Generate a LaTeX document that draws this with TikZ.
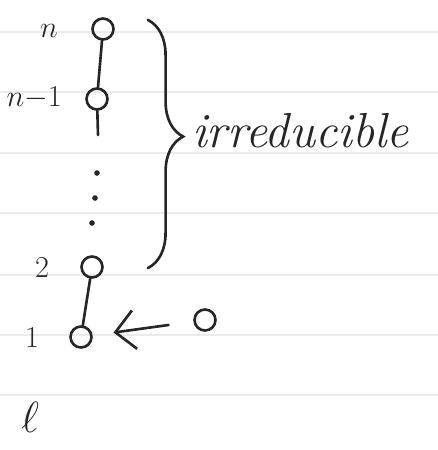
\documentclass[tikz,border=0pt]{standalone}
\usepackage{tikz}
\usetikzlibrary{arrows.meta,decorations.pathreplacing}

\begin{document}
\begin{tikzpicture}[x=0.02cm, y=-0.02cm,
  ink/.style={draw=black!85, line width=1.5pt, line cap=round},
  vertex/.style={ink, circle, minimum size=0.42cm, inner sep=0pt},
  lbl/.style={font=\fontsize{18}{20}\selectfont, text=black!85},
  arr/.style={ink, -{Straight Barb[length=11pt, width=22pt]}},
  rule/.style={draw=black!8, line width=0.8pt}
]
  \useasboundingbox (0,0) rectangle (438,450);
  \foreach \y in {32,92,153,213,275,335,395}
    \draw[rule] (0,\y) -- (438,\y);

  \node[vertex] (n) at (103,29) {};
  \node[vertex] (nm1) at (97,99) {};
  \coordinate (nm1end) at (98,135);
  \node[vertex] (two) at (92,267) {};
  \node[vertex] (one) at (81,337) {};
  \node[vertex] (zero) at (205,320) {};

  \node[lbl] (ln) at (49,31) {$n$};
  \node[lbl, anchor=east] (lnm1) at (68,98) {$n{-}1$};
  \node[lbl] (ltwo) at (42,268) {$2$};
  \node[lbl] (lone) at (32,338) {$1$};
  \node[lbl, font=\fontsize{30}{34}\selectfont] (lell) at (30,417) {$\ell$};

  \draw[ink] (n) -- (nm1) -- (nm1end);
  \foreach \x/\y in {97/173,95/198,92/223}
    \fill[black!85] (\x,\y) circle (1.6pt);
  \draw[ink] (two) -- (one);
  \draw[arr, shorten <=0.5cm, shorten >=0.42cm] (zero) -- (one);

  \coordinate (btop) at (148,20);
  \coordinate (bbot) at (148,268);
  \draw[ink, decorate, decoration={brace, amplitude=20pt, aspect=0.47}]
    (btop) -- (bbot);
  \node[anchor=base west, font=\fontsize{28}{32}\selectfont\itshape,
    text=black!85] (irr) at (186,147) {irreducible};
\end{tikzpicture}
\end{document}
